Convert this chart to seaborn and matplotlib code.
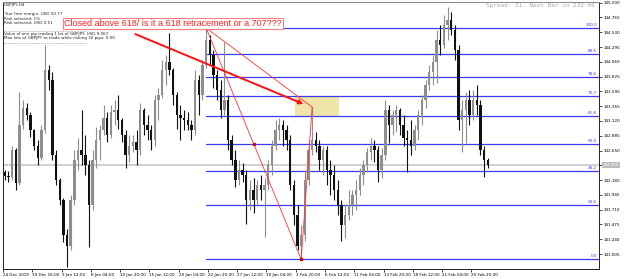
import numpy as np
import pandas as pd
import matplotlib
matplotlib.use("Agg")
import matplotlib.pyplot as plt
from matplotlib.patches import Rectangle
import seaborn as sns

symbol_label = "GBPJPY,H4"
first_open = 142.31
highs = [142.34, 142.32, 142.73, 142.69, 143.58, 143.45, 143.40, 143.26, 143.00, 142.81,
         143.05, 144.32, 144.01, 143.90, 142.66, 142.21, 141.89, 141.41, 141.94, 142.66,
         142.85, 143.29, 142.89, 142.50, 142.66, 143.02, 143.05, 143.37, 143.26, 143.37,
         143.45, 143.53, 143.16, 142.97, 142.89, 142.89, 142.97, 143.40, 143.32, 143.21,
         143.05, 143.53, 143.64, 144.09, 144.17, 144.52, 143.96, 143.58, 143.37, 143.29,
         143.26, 143.13, 143.93, 143.85, 144.09, 144.60, 144.49, 144.25, 143.93, 143.77,
         144.37, 143.53, 142.89, 142.66, 142.50, 142.45, 142.34, 142.18, 142.21, 142.18,
         142.26, 142.21, 142.50, 142.81, 143.13, 143.16, 143.13, 143.05, 142.89, 142.18,
         141.78, 141.46, 142.34, 142.81, 143.34, 142.94, 142.81, 142.73, 142.73, 142.50,
         142.42, 142.18, 141.86, 141.78, 142.02, 142.02, 142.18, 142.37, 142.50, 142.69,
         142.85, 142.81, 142.73, 142.69, 143.45, 143.37, 143.29, 143.37, 143.32, 143.21,
         142.97, 143.13, 143.05, 143.29, 143.53, 143.77, 144.01, 144.17, 144.56, 144.64,
         144.80, 144.93, 144.85, 144.64, 144.32, 143.45, 143.58, 143.61, 143.61, 143.69,
         143.45, 142.73, 142.53]
lows = [142.18, 142.15, 142.18, 142.02, 142.10, 143.00, 143.13, 142.86, 142.66, 142.42,
        142.50, 142.93, 143.61, 142.50, 142.10, 141.78, 141.19, 140.80, 141.07, 141.78,
        142.34, 142.42, 142.26, 141.11, 141.70, 142.37, 142.50, 142.89, 142.78, 142.85,
        143.05, 143.00, 142.78, 142.37, 142.46, 142.62, 142.42, 142.58, 142.89, 142.81,
        142.66, 142.73, 143.13, 143.48, 143.69, 143.85, 143.37, 143.00, 142.81, 142.97,
        142.97, 142.81, 142.89, 143.21, 143.45, 143.96, 144.01, 143.64, 143.45, 143.16,
        143.21, 142.66, 142.42, 142.07, 142.10, 142.15, 141.49, 141.70, 141.65, 141.78,
        141.86, 141.27, 142.02, 142.26, 142.66, 142.81, 142.73, 142.66, 142.02, 141.46,
        141.07, 140.92, 141.22, 142.10, 142.58, 142.62, 142.34, 142.26, 142.10, 141.94,
        141.86, 141.62, 141.22, 141.26, 141.54, 141.62, 141.70, 141.94, 142.10, 142.31,
        142.50, 142.46, 142.15, 142.21, 142.50, 142.77, 142.89, 142.94, 142.89, 142.73,
        142.31, 142.58, 142.66, 142.81, 143.05, 143.32, 143.61, 143.69, 143.72, 144.17,
        144.28, 144.40, 144.49, 144.09, 142.97, 142.62, 142.77, 143.05, 143.13, 143.21,
        142.58, 142.23, 142.37]
closes = [142.24, 142.23, 142.66, 142.13, 143.05, 143.32, 143.21, 142.97, 142.73, 142.53,
          142.97, 143.93, 143.77, 142.58, 142.18, 141.86, 141.30, 141.14, 141.86, 142.50,
          142.66, 142.58, 142.42, 141.78, 142.50, 142.81, 142.97, 143.16, 142.89, 143.26,
          143.29, 143.13, 142.89, 142.58, 142.73, 142.78, 142.66, 143.29, 143.05, 142.97,
          142.81, 143.45, 143.53, 143.93, 144.05, 143.93, 143.53, 143.21, 143.16, 143.13,
          143.05, 142.97, 143.77, 143.53, 144.01, 144.40, 144.17, 143.85, 143.61, 143.29,
          143.45, 142.81, 142.50, 142.18, 142.34, 142.26, 141.86, 142.02, 141.86, 142.10,
          142.02, 142.10, 142.42, 142.73, 142.97, 143.05, 142.97, 142.81, 142.10, 141.62,
          141.14, 141.30, 142.18, 142.66, 142.81, 142.73, 142.50, 142.66, 142.34, 142.26,
          142.02, 141.78, 141.46, 141.62, 141.78, 141.94, 142.02, 142.26, 142.42, 142.62,
          142.73, 142.66, 142.34, 142.58, 143.29, 143.05, 143.21, 143.29, 143.05, 142.85,
          142.81, 142.73, 142.97, 143.21, 143.45, 143.69, 143.90, 144.05, 144.40, 144.32,
          144.64, 144.72, 144.56, 144.25, 143.13, 143.29, 143.45, 143.21, 143.45, 143.37,
          142.66, 142.50, 142.42]

x_tick_labels = ["24 Dec 2019", "30 Dec 16:00", "3 Jan 12:00", "8 Jan 04:00", "10 Jan 20:00",
                 "15 Jan 12:00", "20 Jan 04:00", "22 Jan 20:00", "27 Jan 12:00", "30 Jan 04:00",
                 "3 Feb 20:00", "6 Feb 12:00", "11 Feb 04:00", "13 Feb 20:00", "18 Feb 12:00",
                 "21 Feb 04:00", "25 Feb 20:00"]
y_ticks = [141.005, 141.240, 141.475, 141.710, 141.945, 142.180, 142.415, 142.650, 142.885,
           143.120, 143.355, 143.590, 143.825, 144.060, 144.295, 144.530, 144.765, 145.000]

fib_high = 144.60
fib_low = 140.92
fib_high_bar = 55
fib_low_bar = 81
retest_bar = 84
retest_high = 143.34
fib_levels = [0.0, 23.6, 38.2, 50.0, 61.8, 70.7, 78.6, 88.6, 100.0]
current_price = 142.415

info_lines = ["Your free margin: USD 50.77", "Risk selected: 1%", "Risk selected: USD 0.51",
              "--------------------------------------------------------",
              "Value of one pip trading 1 lot of GBPJPY: USD 9.067",
              "Max lots of GBPJPY to trade while risking 30 pips: 0.00",
              "--------------------------------------------------------"]
annotation_text = "Closed above 618/ is it a 618 retracement or a 707???"
spread_text = "Spread: 21. Next Bar in 232:09"

sns.set_theme(style="white")
plt.rcParams['font.family'] = ['DejaVu Sans']

W, H = 625, 279
fig = plt.figure(figsize=(W / 100, H / 100), dpi=100)
ax = fig.add_axes([3 / W, (H - 269) / H, 596 / W, 267 / H])

n = len(closes)
opens = [first_open] + closes[:-1]
idx = np.arange(n)
df = pd.DataFrame({"i": idx, "open": opens, "high": highs, "low": lows, "close": closes})

xmin, xmax = -0.3, 162.4
ymin, ymax = 140.767, 145.011

# highlight rectangle
ax.add_patch(Rectangle((79.4, 143.18), 11.8, 0.32, facecolor="#efe5a8", edgecolor="none", zorder=1))

# current price line
ax.axhline(current_price, color="#c8c8c8", lw=1.2, zorder=1)

# fib lines via seaborn
fib_rows = []
for lv in fib_levels:
    p = fib_low + (fib_high - fib_low) * lv / 100.0
    fib_rows.append({"x": fib_high_bar, "y": p, "lvl": f"{lv:.1f}"})
    fib_rows.append({"x": xmax, "y": p, "lvl": f"{lv:.1f}"})
fib_df = pd.DataFrame(fib_rows)
sns.lineplot(data=fib_df, x="x", y="y", hue="lvl", palette=["#3a3af2"] * len(fib_levels),
             legend=False, lw=0.9, ax=ax, zorder=2)
for lv in fib_levels:
    p = fib_low + (fib_high - fib_low) * lv / 100.0
    ax.text(xmax - 0.5, p + 0.015, f"{lv:.1f}", color="#3a3af2", fontsize=3, ha="right",
            va="bottom", zorder=5)

# candles
for r in df.itertuples():
    col = "#8e8e8e" if r.close >= r.open else "#111111"
    ax.vlines(r.i, r.low, r.high, color=col, lw=0.8, zorder=3)
    h = abs(r.close - r.open)
    ax.bar(r.i, max(h, 0.01), bottom=min(r.open, r.close), width=0.65, color=col,
           edgecolor="none", zorder=3)

# red trend lines
ax.plot([fib_high_bar, fib_low_bar], [fib_high, fib_low], color="#ff3030", lw=0.6, zorder=4)
ax.plot([fib_high_bar, retest_bar], [fib_high, retest_high], color="#ff3030", lw=0.6, zorder=4)
ax.plot([fib_low_bar, retest_bar], [fib_low, retest_high], color="#ff3030", lw=0.6, zorder=4)
ax.plot([(fib_high_bar + fib_low_bar) / 2], [(fib_high + fib_low) / 2], "o", color="#cc0000",
        ms=1.5, zorder=4)
ax.plot([fib_high_bar, fib_low_bar], [fib_high, fib_low], "s", color="#cc0000", ms=1.5, zorder=4)

# thick red arrow
ax.annotate("", xy=(81.6, 143.39), xytext=(35.7, 144.50),
            arrowprops=dict(arrowstyle="-|>", color="#ff1010", lw=1.4, mutation_scale=6,
                            shrinkA=0, shrinkB=0), zorder=5)

ax.set_xlim(xmin, xmax)
ax.set_ylim(ymin, ymax)

ax.yaxis.tick_right()
ax.set_yticks(y_ticks)
ax.set_yticklabels(["" if abs(v - current_price) < 1e-6 else f"{v:.3f}" for v in y_ticks],
                   fontsize=3)
ax.set_xticks([8 * k - 0.5 for k in range(len(x_tick_labels))])
ax.set_xticklabels(x_tick_labels, fontsize=3, ha="left")
ax.tick_params(axis="both", length=2, width=0.5, pad=1, colors="black", direction="out")
ax.tick_params(axis="y", right=True, left=False)
ax.tick_params(axis="x", bottom=True)
ax.set_xlabel("")
ax.set_ylabel("")
for s in ax.spines.values():
    s.set_color("#222222")
    s.set_linewidth(0.7)
ax.spines["top"].set_color("#888888")

# current price label
ax.text(1.006, current_price, f"{current_price:.3f}", transform=ax.get_yaxis_transform(),
        fontsize=3, color="white", va="center", ha="left",
        bbox=dict(boxstyle="square,pad=0.25", facecolor="#bdbdbd", edgecolor="none"))

# info texts
fig.text(4 / W, 1 - 5 / H, symbol_label, fontsize=3, va="center", ha="left")
ys = [14, 18.5, 23, 31, 34.5, 38.5, 43]
for t, yy in zip(info_lines, ys):
    fig.text(4 / W, 1 - yy / H, t, fontsize=3, va="center", ha="left")

fig.text(173 / W, 1 - 23.5 / H, annotation_text, fontsize=6.5, color="#ff2020", va="center",
         ha="center", family="Liberation Sans",
         bbox=dict(boxstyle="square,pad=0.12", facecolor="white", edgecolor="#ff8080", lw=0.8))

fig.text(595 / W, 1 - 6 / H, spread_text, fontsize=4.3, color="#a8a8a8", ha="right",
         va="center", family="DejaVu Sans Mono")

fig.savefig("out.png", dpi=100, facecolor="white")
